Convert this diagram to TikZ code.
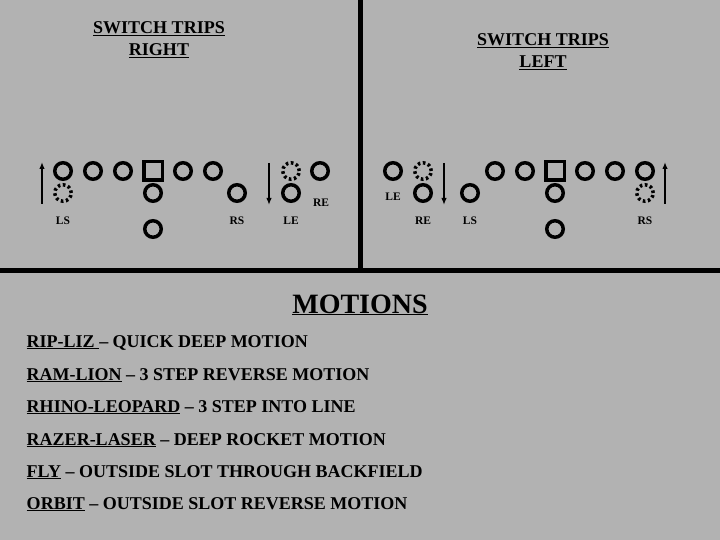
\documentclass[tikz,border=0pt]{standalone}
\usepackage{fontspec}
\setmainfont{Liberation Serif}
\usepackage{tikz}
\usetikzlibrary{arrows,arrows.meta,shapes}
\usetikzlibrary{positioning}
\definecolor{field}{RGB}{178,178,178}
\tikzstyle{play}=[every node/.style={circle,draw=black,line width=3.5pt,minimum
                size=16.5pt,inner sep=0pt}, x=1pt, y=-1pt]
\tikzstyle{ctr}=[rectangle,minimum size=18.5pt]
\tikzstyle{mot}=[dash pattern=on 2.6pt off 2.6pt]
\tikzstyle{plab}=[draw=none,rectangle,minimum size=0pt,inner sep=0pt,
                font=\bfseries\fontsize{11.5}{12}\selectfont]
\tikzstyle{ttl}=[draw=none,rectangle,minimum size=0pt,inner sep=0pt,align=center,
                font=\bfseries\fontsize{18}{22}\selectfont]
\tikzstyle{mtxt}=[draw=none,rectangle,minimum size=0pt,inner sep=0pt,anchor=base west,
                font=\bfseries\fontsize{18}{20}\selectfont]
\tikzstyle{mv}=[line width=1.8pt,-{Latex[length=7pt,width=5.5pt]}]

\begin{document}
\begin{tikzpicture}[play]
  \path[use as bounding box] (0,0) rectangle (720,540);
  \fill[field] (0,0) rectangle (720,540);
  \draw[line width=5pt] (360,0) -- (360,270);
  \draw[line width=5pt] (0,270) -- (720,270);
  % switch trips right
  \node[ttl,anchor=north] (tr) at (159,20) {\underline{SWITCH TRIPS}\\\underline{RIGHT}};
  \node (ra) at (63,171) {};
  \node (rb) at (93,171) {};
  \node (rc) at (123,171) {};
  \node[ctr] (rd) at (153,171) {};
  \node (re) at (183,171) {};
  \node (rf) at (213,171) {};
  \node[mot] (rls) at (63,193) {};
  \node (rq) at (153,193) {};
  \node (rh) at (153,229) {};
  \node (rrs) at (237,193) {};
  \node[mot] (rm) at (291,171) {};
  \node (rre) at (320,171) {};
  \node (rle) at (291,193) {};
  \node[plab] (rlsl) at (63,221) {LS};
  \node[plab] (rrsl) at (237,221) {RS};
  \node[plab] (rlel) at (291,221) {LE};
  \node[plab] (rrel) at (321,203) {RE};
  \coordinate (ru1) at (42,204);
  \coordinate (ru2) at (42,162);
  \coordinate (rd1) at (269,163);
  \coordinate (rd2) at (269,205);
  \draw[mv] (ru1) -- (ru2);
  \draw[mv] (rd1) -- (rd2);
  % switch trips left
  \node[ttl,anchor=north] (tl) at (543,32) {\underline{SWITCH TRIPS}\\\underline{LEFT}};
  \node (lle) at (393,171) {};
  \node[mot] (lm) at (423,171) {};
  \node (lre) at (423,193) {};
  \node (lls) at (470,193) {};
  \node (la) at (495,171) {};
  \node (lb) at (525,171) {};
  \node[ctr] (lc) at (555,171) {};
  \node (ld) at (585,171) {};
  \node (le) at (615,171) {};
  \node (lf) at (645,171) {};
  \node[mot] (lrs) at (645,193) {};
  \node (lq) at (555,193) {};
  \node (lh) at (555,229) {};
  \node[plab] (llel) at (393,197) {LE};
  \node[plab] (lrel) at (423,221) {RE};
  \node[plab] (llsl) at (470,221) {LS};
  \node[plab] (lrsl) at (645,221) {RS};
  \coordinate (ld1) at (444,163);
  \coordinate (ld2) at (444,205);
  \coordinate (lu1) at (665,204);
  \coordinate (lu2) at (665,162);
  \draw[mv] (ld1) -- (ld2);
  \draw[mv] (lu1) -- (lu2);
  % motions
  \node[draw=none,rectangle,minimum size=0pt,inner sep=0pt,anchor=base,
        font=\bfseries\fontsize{28}{30}\selectfont] (mt) at (360,313) {\underline{MOTIONS}};
  \node[mtxt] (m1) at (25,347) {\underline{RIP-LIZ\ }\textendash\ QUICK DEEP MOTION};
  \node[mtxt] (m2) at (25,380) {\underline{RAM-LION} \textendash\ 3 STEP REVERSE MOTION};
  \node[mtxt] (m3) at (25,412) {\underline{RHINO-LEOPARD} \textendash\ 3 STEP INTO LINE};
  \node[mtxt] (m4) at (25,445) {\underline{RAZER-LASER} \textendash\ DEEP ROCKET MOTION};
  \node[mtxt] (m5) at (25,477) {\underline{FLY} \textendash\ OUTSIDE SLOT THROUGH BACKFIELD};
  \node[mtxt] (m6) at (25,509) {\underline{ORBIT} \textendash\ OUTSIDE SLOT REVERSE MOTION};
\end{tikzpicture}
\end{document}
